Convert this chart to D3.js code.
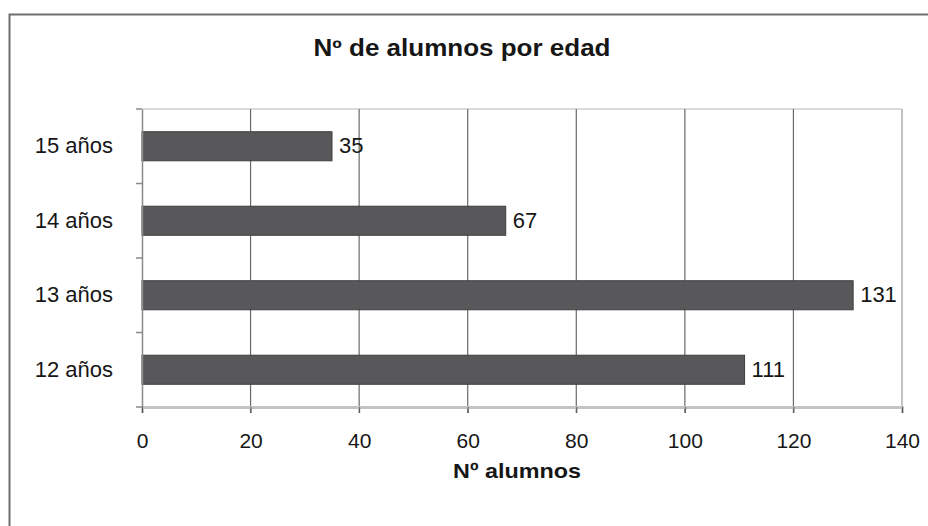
<!DOCTYPE html>
<html>
<head>
<meta charset="utf-8">
<script src="https://cdn.jsdelivr.net/npm/d3@7"></script>
<style>
  body { margin: 0; background: #fff; }
  text { font-family: "Liberation Sans", Arial, sans-serif; fill: #161616; }
</style>
</head>
<body>
<svg id="svg" width="928" height="526"></svg>
<script>
const svg = d3.select("#svg");

const categories = ["12 años", "13 años", "14 años", "15 años"];
const values = [111, 131, 67, 35];
const xTicks = [0, 20, 40, 60, 80, 100, 120, 140];

const title = "Nº de alumnos por edad";
const xTitle = "Nº alumnos";

const margin = { left: 142, right: 26, top: 109, bottom: 119 };
const width = 928;
const height = 526;
const font = '"Liberation Sans", Arial, sans-serif';

const x = d3.scaleLinear().domain([0, 140]).range([margin.left, width - margin.right]);

// categories go bottom-up, like the spreadsheet chart
const y = d3
  .scaleBand()
  .domain(categories)
  .range([height - margin.bottom, margin.top])
  .paddingInner(0.61)
  .paddingOuter(0.305);

// outer frame
svg
  .append("rect")
  .attr("x", 9.5)
  .attr("y", 14.5)
  .attr("width", 940)
  .attr("height", 540)
  .attr("fill", "none")
  .attr("stroke", "#6e6e6e")
  .attr("stroke-width", 2);

// title is wider in the original, so stretch it a little
svg
  .append("text")
  .attr("x", 462)
  .attr("y", 56)
  .attr("text-anchor", "middle")
  .attr("textLength", 297)
  .attr("lengthAdjust", "spacingAndGlyphs")
  .style("font-size", "23px")
  .style("font-weight", "bold")
  .text(title);

const yTop = margin.top;
const yBot = height - margin.bottom;

// plot border (top)
svg
  .append("line")
  .attr("x1", x(0))
  .attr("x2", x(140))
  .attr("y1", yTop)
  .attr("y2", yTop)
  .attr("stroke", "#cfcfcf")
  .attr("stroke-width", 1.5);

// vertical gridlines
svg
  .append("g")
  .selectAll("line")
  .data(xTicks.slice(1))
  .join("line")
  .attr("x1", (d) => x(d))
  .attr("x2", (d) => x(d))
  .attr("y1", yTop)
  .attr("y2", yBot + 6)
  .attr("stroke", (d) => (d === 140 ? "#9a9a9a" : "#6a6a6a"))
  .attr("stroke-width", 1.2);

// bars
svg
  .append("g")
  .selectAll("rect")
  .data(values)
  .join("rect")
  .attr("x", x(0))
  .attr("y", (d, i) => y(categories[i]))
  .attr("width", (d) => x(d) - x(0))
  .attr("height", y.bandwidth())
  .attr("fill", "#58585b")
  .attr("stroke", "#3f3f41")
  .attr("stroke-width", 1);

// value labels
svg
  .append("g")
  .selectAll("text")
  .data(values)
  .join("text")
  .attr("x", (d) => x(d) + 7)
  .attr("y", (d, i) => y(categories[i]) + y.bandwidth() / 2 + 7)
  .style("font-size", "22px")
  .text((d) => d);

// x axis
const xAxis = svg
  .append("g")
  .attr("transform", `translate(0,${yBot})`)
  .call(d3.axisBottom(x).tickValues(xTicks).tickSize(6).tickPadding(20));
xAxis.select(".domain").attr("stroke", "#c4c4c4").attr("stroke-width", 3);
xAxis.selectAll(".tick line").attr("stroke", "#555");
xAxis
  .selectAll(".tick text")
  .style("font-size", "21px")
  .style("font-family", font)
  .attr("fill", "#161616");

// y axis
const yAxis = svg
  .append("g")
  .attr("transform", `translate(${x(0)},0)`)
  .call(d3.axisLeft(y).tickSize(0).tickPadding(29));
yAxis.select(".domain").attr("stroke", "#8a8a8a").attr("stroke-width", 1.5);
yAxis
  .selectAll(".tick text")
  .style("font-size", "22px")
  .style("font-family", font)
  .attr("fill", "#161616");

// y ticks at band boundaries
const bounds = d3.range(categories.length + 1).map((i) => yBot - (i * (yBot - yTop)) / categories.length);
svg
  .append("g")
  .selectAll("line")
  .data(bounds)
  .join("line")
  .attr("x1", x(0) - 6)
  .attr("x2", x(0))
  .attr("y1", (d) => d)
  .attr("y2", (d) => d)
  .attr("stroke", "#8a8a8a")
  .attr("stroke-width", 1.5);

svg
  .append("text")
  .attr("x", 517)
  .attr("y", 478)
  .attr("text-anchor", "middle")
  .attr("textLength", 128)
  .attr("lengthAdjust", "spacingAndGlyphs")
  .style("font-size", "21px")
  .style("font-weight", "bold")
  .text(xTitle);
</script>
</body>
</html>
